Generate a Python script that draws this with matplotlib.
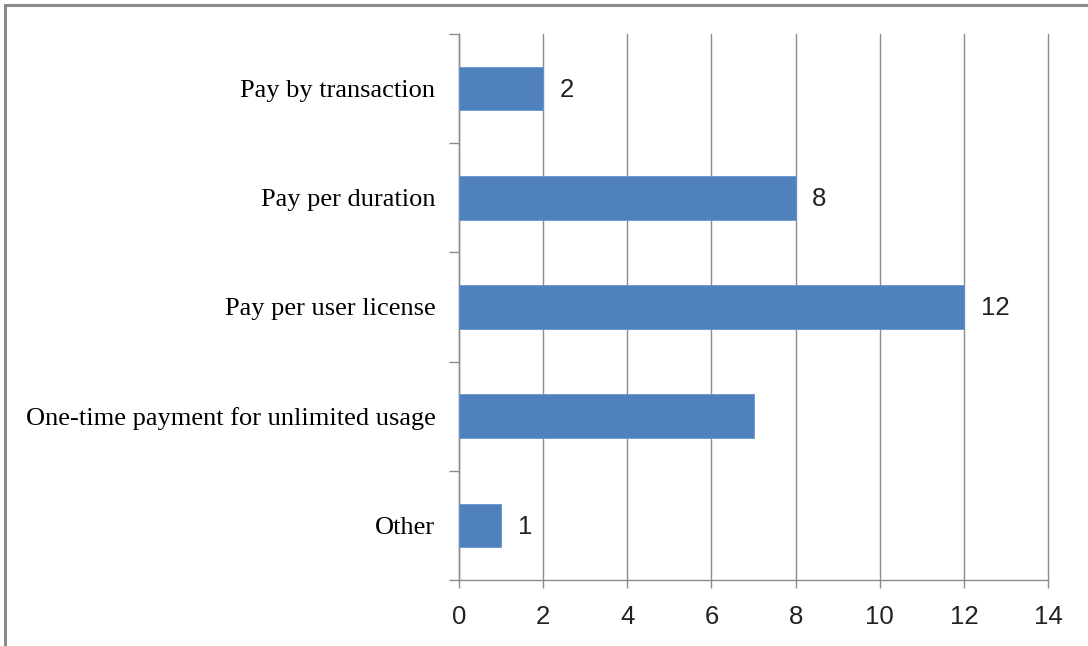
import matplotlib.pyplot as plt
from matplotlib.patches import Rectangle

# data, top to bottom as shown
categories = ["Pay by transaction", "Pay per duration", "Pay per user license",
              "One-time payment for unlimited usage", "Other"]
values = [2, 8, 12, 7, 1]
value_labels = ["2", "8", "12", None, "1"]
xticks = [0, 2, 4, 6, 8, 10, 12, 14]

BAR = "#4F81BD"
GRID = "#8C8C8C"
NUMFONT = dict(family="Liberation Sans", fontsize=18.5, color="#222222")

fig = plt.figure(figsize=(10.88, 6.46), dpi=100)
ax = fig.add_axes([459 / 1088, 66 / 646, 589 / 1088, 546 / 646])

n = len(categories)
pos = list(range(n))[::-1]
ax.barh(pos, values, height=0.4, color=BAR, edgecolor="#6A96CC", linewidth=0.6, zorder=3)

for p, v, lab in zip(pos, values, value_labels):
    if lab is not None:
        ax.annotate(lab, (v, p), xytext=(12, -1), textcoords="offset points",
                    ha="left", va="center", **NUMFONT)

ax.set_xlim(0, 14)
ax.set_ylim(-0.5, n - 0.5)
ax.set_xticks(xticks)
ax.set_xticklabels([str(t) for t in xticks], **NUMFONT)

# category labels between separator ticks
ax.set_yticks([i - 0.5 for i in range(n + 1)])
ax.set_yticklabels([])
ax.set_yticks(pos, minor=True)
ax.set_yticklabels(categories, minor=True, family="Liberation Serif", fontsize=19)
ax.tick_params(axis="y", which="minor", length=0, pad=17)
ax.tick_params(axis="y", which="major", length=7, color=GRID, width=1)
ax.tick_params(axis="x", length=6, color=GRID, width=1, pad=12)

ax.xaxis.grid(True, color=GRID, linewidth=1, zorder=0)
for gl in ax.get_xgridlines():
    gl.set_clip_on(False)
for s in ["top", "right"]:
    ax.spines[s].set_visible(False)
for s in ["left", "bottom"]:
    ax.spines[s].set_color(GRID)
    ax.spines[s].set_linewidth(1)

# outer chart border (cropped on right and bottom)
fig.patches.append(Rectangle((5 / 1088, -0.1), 1.2, 1 - 5 / 646 + 0.1,
                             transform=fig.transFigure, fill=False,
                             edgecolor="#8A8A8A", linewidth=2.2))

fig.savefig("out.png", dpi=100)
